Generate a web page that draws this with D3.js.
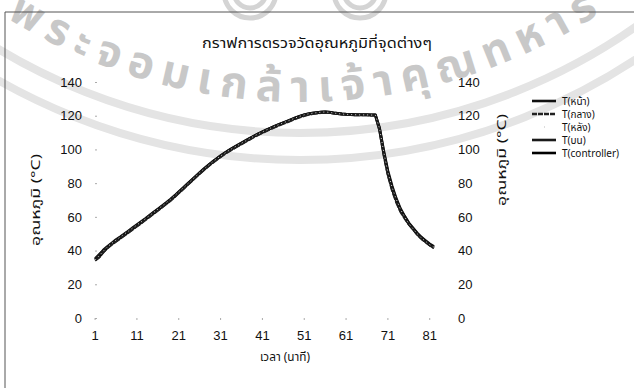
<!DOCTYPE html>
<html>
<head>
<meta charset="utf-8">
<script src="https://cdn.jsdelivr.net/npm/d3@7"></script>
<style>
  html, body { margin: 0; padding: 0; background: #fff; }
  svg { display: block; }
</style>
</head>
<body>
<script>
// Time in minutes (category axis)
const minutes = [1,2,3,4,5,6,7,8,9,10,11,12,13,14,15,16,17,18,19,20,
  21,22,23,24,25,26,27,28,29,30,31,32,33,34,35,36,37,38,39,40,
  41,42,43,44,45,46,47,48,49,50,51,52,53,54,55,56,57,58,59,60,
  61,62,63,64,65,66,67,68,69,70,71,72,73,74,75,76,77,78,79,80,81,82];
const xTickLabels = [1, 11, 21, 31, 41, 51, 61, 71, 81];
const yTicks = [0, 20, 40, 60, 80, 100, 120, 140];

// Temperatures (°C) at each measuring point
const tFront = [35,37.5,40.5,42.5,44.5,46.5,48.2,50,51.8,53.6,
  55.4,57.2,59,60.9,62.8,64.7,66.6,68.5,70.5,72.6,
  74.9,77.2,79.5,81.8,84,86.3,88.5,90.6,92.6,94.5,
  96.3,98,99.6,101.1,102.5,103.9,105.3,106.7,108,109.3,
  110.5,111.7,112.8,113.9,114.9,115.9,116.9,117.9,118.9,119.8,
  120.6,121.2,121.6,121.9,122.2,122.3,122.1,121.7,121.4,121.1,
  120.9,120.8,120.7,120.6,120.6,120.6,120.5,120.5,113,99.5,
  87.5,78.5,71,65,60.5,56.5,53.5,50.5,48,46,
  44,42.5];
const tMiddle = [34,36,39,41.5,43.5,45.3,47.1,48.9,50.7,52.5,
  54.3,56.1,58,59.9,61.8,63.7,65.6,67.5,69.5,71.7,
  74,76.3,78.6,80.9,83.2,85.5,87.7,89.8,91.8,93.7,
  95.5,97.2,98.8,100.3,101.7,103.1,104.5,105.9,107.3,108.6,
  109.8,111,112.1,113.2,114.2,115.2,116.2,117.2,118.2,119.1,
  119.9,120.6,121,121.4,121.7,121.9,121.8,121.4,121.1,120.8,
  120.6,120.5,120.4,120.3,120.3,120.3,120.2,120.2,111,96.5,
  84.5,75.5,68.5,63,59,55.5,52.5,49.5,47,45,
  43,41.5];
const tBack = [34.5,37,39.8,42.3,44.3,46.2,48,49.8,51.6,53.4,
  55.2,57,58.8,60.7,62.6,64.5,66.4,68.3,70.3,72.5,
  74.8,77,79.3,81.6,83.9,86.2,88.3,90.4,92.4,94.3,
  96.1,97.8,99.4,100.9,102.3,103.7,105.1,106.5,107.9,109.2,
  110.4,111.6,112.7,113.8,114.8,115.8,116.8,117.8,118.8,119.7,
  120.5,121.1,121.5,121.8,122.1,122.2,122,121.6,121.3,121,
  120.8,120.7,120.6,120.5,120.5,120.5,120.4,120.4,112.5,98.5,
  86.5,77.5,70.5,64.5,60,56,53,50,47.5,45.5,
  43.5,42];
const tTop = [35.5,38,40.5,42.5,44.5,46.3,48.1,49.9,51.7,53.5,
  55.3,57.1,58.9,60.8,62.7,64.6,66.5,68.4,70.4,72.5,
  74.8,77.1,79.4,81.7,84,86.2,88.4,90.5,92.5,94.4,
  96.2,97.9,99.5,101,102.4,103.8,105.2,106.6,108,109.3,
  110.5,111.6,112.7,113.8,114.8,115.8,116.8,117.8,118.8,119.7,
  120.5,121.1,121.5,121.8,122,122.1,121.9,121.5,121.2,120.9,
  120.7,120.6,120.5,120.4,120.4,120.4,120.3,120.3,112,97.5,
  85.5,76.5,69.5,63.5,59.5,55.5,52.5,49.5,47,45,
  43,41.5];
const tController = [34.5,36.5,39.5,42,44,45.8,47.6,49.4,51.2,53,
  54.8,56.6,58.5,60.4,62.3,64.2,66.1,68,70,72.2,
  74.5,76.8,79.1,81.4,83.7,86,88.2,90.3,92.3,94.2,
  96,97.7,99.3,100.8,102.2,103.6,105,106.4,107.8,109.1,
  110.3,111.5,112.6,113.7,114.7,115.7,116.7,117.7,118.7,119.6,
  120.4,121,121.4,121.7,122,122.2,122,121.6,121.3,121,
  120.8,120.7,120.6,120.5,120.5,120.5,120.4,120.4,112,98,
  86,77,70,64,60,56,53,50,47.5,45.5,
  43.5,42];

const seriesNames = ["T(หน้า)", "T(กลาง)", "T(หลัง)", "T(บน)", "T(controller)"];
const seriesValues = [tFront, tMiddle, tBack, tTop, tController];
const seriesStyle = [
  { color: "#111", width: 2.6, dash: null },
  { color: "#222", width: 2.2, dash: "7,1.5" },
  { color: "#d8d8d8", width: 1, dash: "1,3" },
  { color: "#1a1a1a", width: 1.8, dash: "10,1" },
  { color: "#000", width: 3, dash: null }
];

const W = 634, H = 388;
const thaiFont = "'Noto Sans Thai','Loma','Garuda','Norasi','Tlwg Typo','DejaVu Sans',sans-serif";
const numFont = "'Liberation Sans', Arial, sans-serif";

const svg = d3.select("body").append("svg").attr("width", W).attr("height", H);
svg.append("rect").attr("width", W).attr("height", H).attr("fill", "#fff");

// Faint seal watermark behind the chart
const wm = svg.append("g").attr("class", "watermark");
const cx = 300, cy = -450;
[583, 610].forEach(r => {
  wm.append("circle").attr("cx", cx).attr("cy", cy).attr("r", r)
    .attr("fill", "none").attr("stroke", "#e4e4e4").attr("stroke-width", 8);
});
[[250, -8, 26], [360, -8, 26], [250, -8, 16], [360, -8, 16]].forEach(([x, yy, r]) => {
  wm.append("circle").attr("cx", x).attr("cy", yy).attr("r", r)
    .attr("fill", "none").attr("stroke", "#d4d4d4").attr("stroke-width", 5);
});
const rText = 552;
const a0 = 0.56, a1 = 0.6;
const p0 = [cx - rText * Math.sin(a0), cy + rText * Math.cos(a0)];
const p1 = [cx + rText * Math.sin(a1), cy + rText * Math.cos(a1)];
svg.append("defs").append("path").attr("id", "sealArc")
  .attr("d", `M${p0[0]},${p0[1]} A${rText},${rText} 0 0 0 ${p1[0]},${p1[1]}`);
wm.append("text")
  .attr("font-family", thaiFont).attr("font-size", 44).attr("font-weight", "bold")
  .attr("fill", "#c8c8c8").attr("letter-spacing", 9)
  .append("textPath").attr("href", "#sealArc")
  .text("พระจอมเกล้าเจ้าคุณทหาร");

// Outer frame
svg.append("path").attr("d", "M5,388 V12 H634")
  .attr("fill", "none").attr("stroke", "#555").attr("stroke-width", 1);

// Scales
const x = d3.scaleBand().domain(minutes).range([93, 436]).paddingInner(0).paddingOuter(0);
const xc = d => x(d) + x.bandwidth() / 2;
const y = d3.scaleLinear().domain([0, 140]).range([318, 82]);

// Axes
const leftAxis = svg.append("g").attr("transform", "translate(97,0)")
  .call(d3.axisLeft(y).tickValues(yTicks).tickSize(2).tickPadding(13));
const rightAxis = svg.append("g").attr("transform", "translate(440,0)")
  .call(d3.axisRight(y).tickValues(yTicks).tickSize(0).tickPadding(18));
const bottomAxis = svg.append("g").attr("transform", "translate(0,318)")
  .call(d3.axisBottom(x).tickValues(xTickLabels).tickSize(2).tickPadding(11));
[leftAxis, rightAxis, bottomAxis].forEach(g => {
  g.select(".domain").remove();
  g.selectAll(".tick line").attr("stroke", "#aaa");
  g.selectAll("text").attr("font-family", numFont).attr("font-size", 13).attr("fill", "#111");
});

// Series lines
const line = d3.line().x((d, i) => xc(minutes[i])).y(d => y(d)).curve(d3.curveLinear);
const drawOrder = [4, 0, 1, 3, 2];
drawOrder.forEach(k => {
  const s = seriesStyle[k];
  svg.append("path").datum(seriesValues[k])
    .attr("fill", "none").attr("stroke", s.color).attr("stroke-width", s.width)
    .attr("stroke-dasharray", s.dash).attr("stroke-linejoin", "round")
    .attr("d", line);
});

// Titles
svg.append("text").attr("x", 317).attr("y", 48).attr("text-anchor", "middle")
  .attr("font-family", thaiFont).attr("font-size", 14).attr("fill", "#111")
  .attr("textLength", 230).attr("lengthAdjust", "spacingAndGlyphs")
  .text("กราฟการตรวจวัดอุณหภูมิที่จุดต่างๆ");
svg.append("text").attr("transform", "translate(40,200) rotate(-90)").attr("text-anchor", "middle")
  .attr("font-family", thaiFont).attr("font-size", 12).attr("fill", "#111")
  .attr("textLength", 92).attr("lengthAdjust", "spacingAndGlyphs")
  .text("อุณหภูมิ (°C)");
svg.append("text").attr("transform", "translate(506,160) rotate(-90)").attr("text-anchor", "middle")
  .attr("font-family", thaiFont).attr("font-size", 12).attr("fill", "#111")
  .attr("textLength", 92).attr("lengthAdjust", "spacingAndGlyphs")
  .text("อุณหภูมิ (°C)");
svg.append("text").attr("x", 285).attr("y", 361).attr("text-anchor", "middle")
  .attr("font-family", thaiFont).attr("font-size", 12).attr("fill", "#111")
  .attr("textLength", 50).attr("lengthAdjust", "spacingAndGlyphs")
  .text("เวลา (นาที)");

// Legend
const legend = svg.append("g");
seriesNames.forEach((name, k) => {
  const s = seriesStyle[k];
  const ly = 101 + k * 13;
  legend.append("line").attr("x1", 532).attr("x2", 556).attr("y1", ly).attr("y2", ly)
    .attr("stroke", k === 2 ? "#bbb" : s.color).attr("stroke-width", k === 2 ? 1 : 2.6)
    .attr("stroke-dasharray", k === 2 ? "1,20" : (k === 1 ? "5,1" : null))
    .attr("stroke-dashoffset", k === 2 ? -12 : 0);
  legend.append("text").attr("x", 562).attr("y", ly + 3.5)
    .attr("font-family", thaiFont).attr("font-size", 10).attr("fill", "#111")
    .text(name);
});
</script>
</body>
</html>
